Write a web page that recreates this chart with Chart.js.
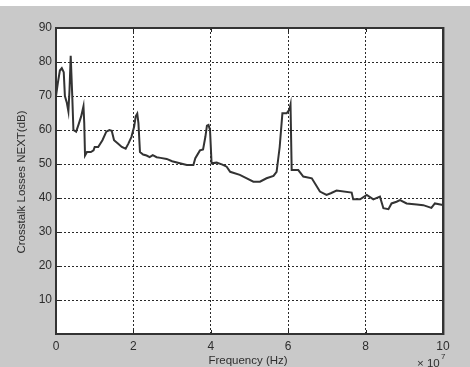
<!DOCTYPE html>
<html>
<head>
<meta charset="utf-8">
<script src="https://cdn.jsdelivr.net/npm/chart.js@4/dist/chart.umd.min.js"></script>
<style>
  body { margin: 0; background: #fff; }
  canvas { display: block; }
</style>
</head>
<body>
<canvas id="myChart" width="470" height="367"></canvas>
<script>
// frequency in units of 1e7 Hz
const freq = [0, 0.05, 0.1, 0.15, 0.2, 0.23, 0.28, 0.32, 0.35, 0.38, 0.42, 0.45, 0.52, 0.58, 0.65, 0.71, 0.73, 0.75,
  0.8, 0.9, 0.97, 1.0, 1.09, 1.2, 1.3, 1.38, 1.44, 1.5, 1.6, 1.7, 1.8, 1.87, 1.95, 2.02, 2.06, 2.1, 2.13, 2.17,
  2.25, 2.34, 2.42, 2.5, 2.6, 2.7, 2.86, 3.0, 3.2, 3.38, 3.55, 3.6, 3.72, 3.8, 3.86, 3.9, 3.94, 3.98, 4.02,
  4.15, 4.3, 4.41, 4.5, 4.75, 4.93, 5.1, 5.27, 5.44, 5.62, 5.7, 5.78, 5.85, 5.96, 6.03, 6.06, 6.09,
  6.26, 6.39, 6.61, 6.82, 6.99, 7.1, 7.25, 7.64, 7.68, 7.86, 8.03, 8.2, 8.37, 8.46, 8.59, 8.67, 8.8, 8.89,
  9.06, 9.32, 9.49, 9.7, 9.79, 10];
const nextLoss = [70, 74, 77.5, 78.2, 77, 70, 68, 65.5, 72, 81.8, 70, 60, 59.5, 61.5, 64, 67, 62, 52.5,
  53.5, 53.5, 54, 55, 55, 57, 59.5, 60, 59.8, 57, 56, 55, 54.5, 56, 58, 61, 64, 64.8, 62, 53.5,
  52.8, 52.5, 52, 52.6, 52, 51.8, 51.5, 50.8, 50.2, 49.7, 49.7, 51.7, 54, 54.3, 58, 61.3, 61.5, 60, 50.2,
  50.4, 49.8, 49.2, 47.7, 46.8, 45.8, 44.8, 44.8, 45.8, 46.5, 47.7, 55, 64.9, 64.9, 66, 67.5, 48.2,
  48.2, 46.3, 45.8, 41.9, 40.9, 41.4, 42.2, 41.6, 39.6, 39.6, 40.9, 39.6, 40.4, 37, 36.7, 38.4, 38.9, 39.4,
  38.4, 38.1, 37.9, 37.1, 38.4, 37.9];
const xTicks = [0, 2, 4, 6, 8, 10];
const yTicks = [10, 20, 30, 40, 50, 60, 70, 80, 90];

const points = freq.map((f, i) => ({ x: f, y: nextLoss[i] }));

// gray figure, white axes, box and inward ticks like matlab
const matlabLook = {
  id: "matlabLook",
  beforeDraw(chart) {
    const c = chart.ctx;
    const a = chart.chartArea;
    c.save();
    c.fillStyle = "#ffffff";
    c.fillRect(0, 0, chart.width, chart.height);
    c.fillStyle = "#c9c9c9";
    c.fillRect(0, 6, chart.width, chart.height - 6);
    c.fillStyle = "#ffffff";
    c.fillRect(a.left, a.top, a.right - a.left, a.bottom - a.top);
    c.restore();
  },
  afterDraw(chart) {
    const c = chart.ctx;
    const a = chart.chartArea;
    const xs = chart.scales.x;
    const ys = chart.scales.y;
    c.save();
    c.strokeStyle = "#222";
    c.lineWidth = 1;
    c.beginPath();
    xTicks.forEach(t => {
      const px = Math.round(xs.getPixelForValue(t)) + 0.5;
      c.moveTo(px, a.bottom); c.lineTo(px, a.bottom - 4);
      c.moveTo(px, a.top); c.lineTo(px, a.top + 4);
    });
    yTicks.forEach(t => {
      const py = Math.round(ys.getPixelForValue(t)) + 0.5;
      c.moveTo(a.left, py); c.lineTo(a.left + 4, py);
      c.moveTo(a.right, py); c.lineTo(a.right - 4, py);
    });
    c.stroke();
    c.lineWidth = 2;
    c.strokeStyle = "#333";
    c.strokeRect(a.left, a.top, a.right - a.left, a.bottom - a.top);
    c.strokeStyle = "#888";
    c.lineWidth = 1;
    c.beginPath();
    c.moveTo(a.right + 1.5, a.top - 1); c.lineTo(a.right + 1.5, a.bottom + 1);
    c.stroke();

    c.fillStyle = "#2e2e2e";
    c.font = "11.5px 'Liberation Sans', Arial, sans-serif";
    c.textAlign = "center";
    c.textBaseline = "middle";
    c.fillText("Frequency (Hz)", 248, 361);
    c.textAlign = "left";
    c.fillText("\u00d7 10", 417, 364);
    c.font = "8px 'Liberation Sans', Arial, sans-serif";
    c.fillText("7", 441, 357);
    c.translate(22, 182);
    c.rotate(-Math.PI / 2);
    c.textAlign = "center";
    c.font = "11.5px 'Liberation Sans', Arial, sans-serif";
    c.fillText("Crosstalk Losses NEXT(dB)", 0, 0);
    c.restore();
  }
};

const ctx = document.getElementById("myChart").getContext("2d");
const myChart = new Chart(ctx, {
  type: "scatter",
  data: {
    datasets: [
      {
        data: points,
        showLine: true,
        borderColor: "#333333",
        borderWidth: 2,
        pointRadius: 0,
        tension: 0,
        fill: false,
      },
    ],
  },
  options: {
    responsive: false,
    animation: false,
    devicePixelRatio: 1,
    layout: { padding: { left: 0, top: 28, right: 27, bottom: 0 } },
    plugins: { legend: { display: false }, tooltip: { enabled: false } },
    scales: {
      x: {
        type: "linear",
        min: 0,
        max: 10,
        afterBuildTicks: s => { s.ticks = xTicks.map(v => ({ value: v })); },
        afterFit: s => { s.height = 33; },
        grid: { color: "#2a2a2a", lineWidth: 1, drawTicks: false },
        border: { display: false, dash: [2, 2] },
        ticks: { color: "#2e2e2e", padding: 5, autoSkip: false, font: { family: "'Liberation Sans', Arial", size: 12 } },
      },
      y: {
        min: 0,
        max: 90,
        afterBuildTicks: s => { s.ticks = yTicks.map(v => ({ value: v })); },
        afterFit: s => { s.width = 56; },
        grid: { color: "#2a2a2a", lineWidth: 1, drawTicks: false },
        border: { display: false, dash: [2, 2] },
        ticks: { color: "#2e2e2e", padding: 4, autoSkip: false, font: { family: "'Liberation Sans', Arial", size: 12 } },
      },
    },
  },
  plugins: [matlabLook],
});
</script>
</body>
</html>
